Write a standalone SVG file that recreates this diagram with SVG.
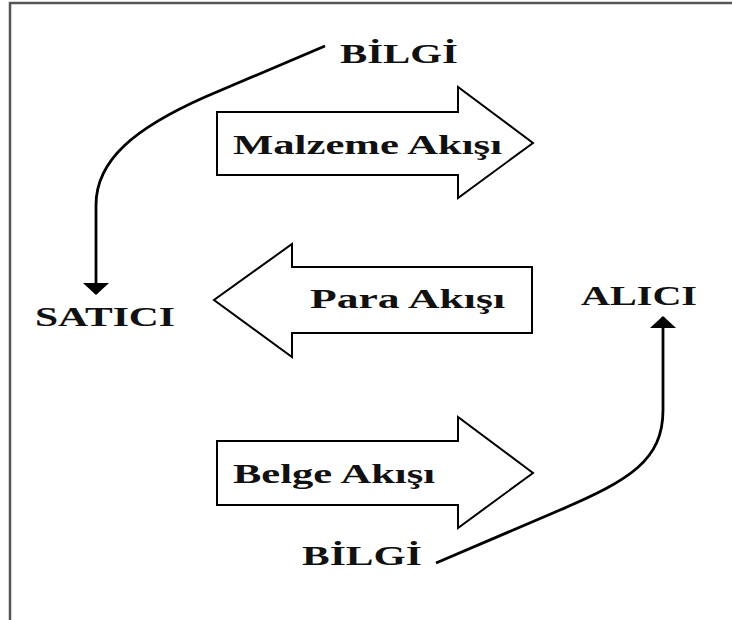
<svg xmlns="http://www.w3.org/2000/svg" width="732" height="620" viewBox="0 0 732 620">
  <defs>
    <marker id="head" viewBox="0 0 12 28" refX="11" refY="14" markerWidth="12" markerHeight="28" orient="auto" markerUnits="userSpaceOnUse">
      <path d="M0,1 L12,14 L0,27 Z" fill="#000"/>
    </marker>
    <style>
      .lbl { font-family: "Liberation Serif", "Times New Roman", serif; font-weight: bold; font-size: 27px; fill: #111; }
      .flow { fill: #fff; stroke: #000; stroke-width: 2; stroke-linejoin: miter; }
      .link { fill: none; stroke: #000; stroke-width: 2.8; }
      .frame { stroke: #555; stroke-width: 2.5; fill: none; }
    </style>
  </defs>

  <rect width="732" height="620" fill="#fff"/>

  <!-- page frame: top and left edges -->
  <path class="frame" d="M10,620 L10,3 L732,3"/>

  <!-- information connectors -->
  <g id="connectors">
    <path class="link" d="M325,46 L205,97 C135,128 96,160 96,205 L96,294" marker-end="url(#head)"/>
    <path class="link" d="M436,563 L560,510 C630,480 663,460 663,410 L663,317" marker-end="url(#head)"/>
  </g>

  <g id="satici">
    <text class="lbl" x="35" y="326" textLength="140" lengthAdjust="spacingAndGlyphs">SATICI</text>
  </g>

  <g id="alici">
    <text class="lbl" x="581" y="305" textLength="116" lengthAdjust="spacingAndGlyphs">ALICI</text>
  </g>

  <g id="bilgi-top">
    <text class="lbl" x="340" y="63" textLength="118" lengthAdjust="spacingAndGlyphs">BİLGİ</text>
  </g>

  <g id="bilgi-bottom">
    <text class="lbl" x="302" y="565" textLength="120" lengthAdjust="spacingAndGlyphs">BİLGİ</text>
  </g>

  <g id="malzeme-akisi">
    <polygon class="flow" points="217,112 458,112 458,87 533,143 458,198 458,175 217,175"/>
    <text class="lbl" x="233" y="154" textLength="269" lengthAdjust="spacingAndGlyphs">Malzeme Akışı</text>
  </g>

  <g id="para-akisi">
    <polygon class="flow" points="532,267 292,267 292,244 214,300 292,357 292,333 532,333"/>
    <text class="lbl" x="310" y="308" textLength="195" lengthAdjust="spacingAndGlyphs">Para Akışı</text>
  </g>

  <g id="belge-akisi">
    <polygon class="flow" points="217,441 458,441 458,417 533,473 458,528 458,505 217,505"/>
    <text class="lbl" x="233" y="483" textLength="202" lengthAdjust="spacingAndGlyphs">Belge Akışı</text>
  </g>
</svg>
